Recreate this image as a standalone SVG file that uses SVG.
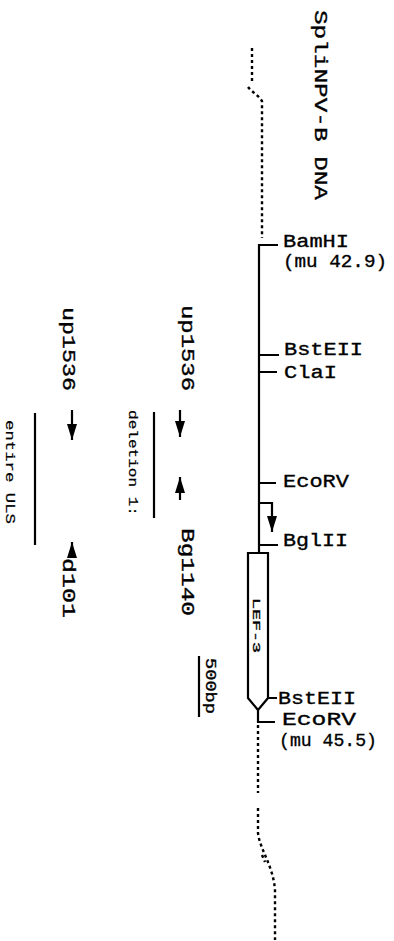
<svg xmlns="http://www.w3.org/2000/svg" width="394" height="941" viewBox="0 0 394 941">
<style>
text{font-family:"Liberation Mono","DejaVu Sans Mono",monospace;fill:#000;stroke:#000;stroke-width:0.35}
.lbl{font-size:19px}
.rot{font-size:19px}
.sm{font-size:13px;stroke-width:0.2}
.ln{stroke:#000;stroke-width:2.2;fill:none}
.dot{stroke:#000;stroke-width:2.4;fill:none;stroke-dasharray:3 3}
.arr{stroke:#000;stroke-width:2.2;fill:none;marker-end:url(#ah)}
</style>
<defs>
<marker id="ah" markerUnits="userSpaceOnUse" viewBox="0 0 16 10" refX="16" refY="5" markerWidth="16" markerHeight="10" orient="auto">
<path d="M0,0 L16,5 L0,10 Z" fill="#000"/>
</marker>
</defs>
<rect width="394" height="941" fill="#fff"/>
<g id="title"><text class="rot" transform="translate(315,10) rotate(90)" textLength="190" lengthAdjust="spacingAndGlyphs">SpliNPV-B DNA</text></g>
<g id="connectors">
<path class="dot" d="M252,48 V82 M248,87 C252,92 258,95 262,101 V238"/>
<path class="dot" d="M258,725 V793 M258,808 V833 C260,850 273,865 275,890 V940 M262,855 L265,862"/>
<path class="ln" d="M278,245 H259 V553"/>
<path class="ln" d="M259,355 H279 M259,372 H277 M259,483 H276 M259,545 H278"/>
<path class="ln" d="M258,710 V722 H275 M268,698 H277"/>
<path class="arr" d="M259,503 H272 V532"/>
</g>
<g id="dna-labels">
<text class="lbl" x="283" y="247" textLength="66" lengthAdjust="spacingAndGlyphs">BamHI</text>
<text class="lbl" x="283" y="267" textLength="104" lengthAdjust="spacingAndGlyphs">(mu 42.9)</text>
<text class="lbl" x="284" y="355" textLength="79" lengthAdjust="spacingAndGlyphs">BstEII</text>
<text class="lbl" x="284" y="378" textLength="53" lengthAdjust="spacingAndGlyphs">ClaI</text>
<text class="lbl" x="283" y="487" textLength="66" lengthAdjust="spacingAndGlyphs">EcoRV</text>
<text class="lbl" x="283" y="546" textLength="65" lengthAdjust="spacingAndGlyphs">BglII</text>
<text class="lbl" x="278" y="704" font-size="17" textLength="78" lengthAdjust="spacingAndGlyphs">BstEII</text>
<text class="lbl" x="282" y="725" font-size="17" textLength="74" lengthAdjust="spacingAndGlyphs">EcoRV</text>
<text class="lbl" x="279" y="746" font-size="16" textLength="98" lengthAdjust="spacingAndGlyphs">(mu 45.5)</text>
</g>
<g id="lef3">
<path class="ln" stroke-width="2.6" d="M248,553 H268 V698 L258,710 L248,698 Z"/>
<text transform="translate(253,598) rotate(90)" font-size="11" stroke-width="0.2" textLength="55" lengthAdjust="spacingAndGlyphs">LEF-3</text>
</g>
<g id="deletion1">
<text class="rot" transform="translate(182,305) rotate(90)" textLength="86" lengthAdjust="spacingAndGlyphs">up1536</text>
<text class="rot" transform="translate(182,528) rotate(90)" textLength="88" lengthAdjust="spacingAndGlyphs">Bg1140</text>
<line class="arr" x1="180" y1="410" x2="180" y2="437"/>
<line class="arr" x1="180" y1="500" x2="180" y2="477"/>
<line class="ln" stroke-width="2.8" x1="154" y1="412" x2="154" y2="518"/>
<text class="sm" transform="translate(129,410) rotate(90)" textLength="106" lengthAdjust="spacingAndGlyphs">deletion 1:</text>
</g>
<g id="entire-uls">
<text class="rot" transform="translate(63,307) rotate(90)" textLength="84" lengthAdjust="spacingAndGlyphs">up1536</text>
<text class="rot" transform="translate(63,558) rotate(90)" textLength="60" lengthAdjust="spacingAndGlyphs">d101</text>
<line class="arr" x1="72" y1="410" x2="72" y2="440"/>
<line class="arr" x1="72" y1="557" x2="72" y2="542"/>
<line class="ln" stroke-width="2.8" x1="35" y1="413" x2="35" y2="545"/>
<text class="sm" transform="translate(6,420) rotate(90)" textLength="104" lengthAdjust="spacingAndGlyphs">entire ULS</text>
</g>
<g id="scale">
<line class="ln" x1="199" y1="656" x2="199" y2="717"/>
<text font-size="14" stroke-width="0.2" transform="translate(206,658) rotate(90)" textLength="56" lengthAdjust="spacingAndGlyphs">500bp</text>
</g>
</svg>
